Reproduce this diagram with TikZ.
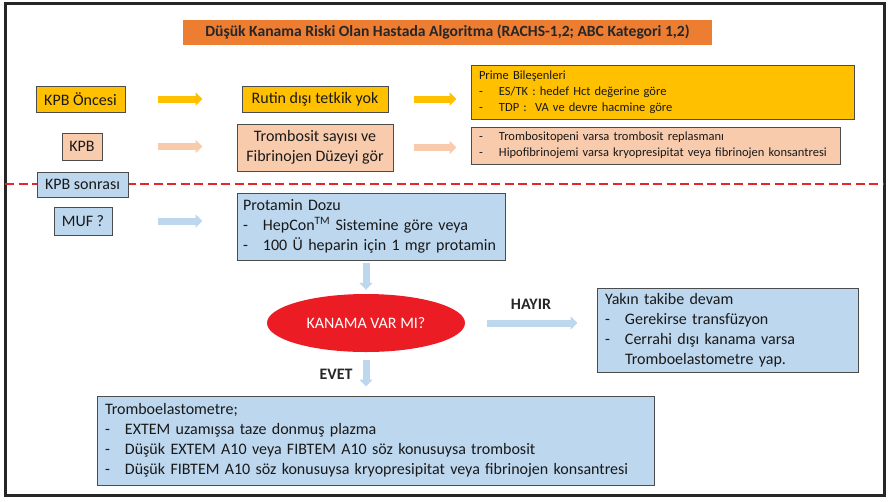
\documentclass[tikz,border=0pt]{standalone}
\usepackage{fontspec}
\setmainfont{Carlito}
\usetikzlibrary{arrows.meta,shapes.geometric}
\definecolor{gold}{HTML}{FFC000}
\definecolor{peach}{HTML}{F8CBAD}
\definecolor{skyblue}{HTML}{BDD7EE}
\definecolor{titleorange}{HTML}{ED7D31}
\definecolor{alertred}{HTML}{EB1C24}
\definecolor{linered}{HTML}{E3262B}
\newcommand{\itemdash}{\makebox[20pt][l]{-}}
\begin{document}
\begin{tikzpicture}[x=1pt,y=-1pt,
  box/.style={draw=black!70, line width=1pt, inner sep=0pt, text=black!90,
    font=\fontsize{16}{20}\selectfont},
  listbox/.style={box, align=left, inner xsep=8pt},
  smallbox/.style={listbox, font=\fontsize{12.5}{16}\selectfont},
  flow/.style={line width=7pt, -{Triangle[length=7pt,width=13pt]}},
  label/.style={font=\bfseries\fontsize{16}{17}\selectfont, text=black!85}]
\useasboundingbox (0,0) rectangle (888,501);
% outer frame
\draw[line width=3pt, black!85] (5,3) rectangle (884,495);

% title banner
\node[fill=titleorange, inner sep=0pt, minimum width=529pt, minimum height=25pt,
  font=\bfseries\fontsize{15.6}{16}\selectfont, text=black!85] (title) at (447.5,32.5)
  {Düşük Kanama Riski Olan Hastada Algoritma (RACHS-1,2; ABC Kategori 1,2)};

% row: before CPB
\node[box, fill=gold, minimum width=89pt, minimum height=26pt] (kpbo) at (80.5,99) {KPB Öncesi};
\node[box, fill=gold, minimum width=146pt, minimum height=26pt] (rutin) at (315,99) {Rutin dışı tetkik yok};
\node[smallbox, fill=gold, text width=367pt, minimum height=54pt] (prime) at (662.5,92)
  {Prime Bileşenleri\\
   \itemdash ES/TK : hedef Hct değerine göre\\
   \itemdash TDP :\ \ VA ve devre hacmine göre};

% row: during CPB
\node[box, fill=peach, minimum width=40pt, minimum height=27pt] (kpb) at (82,146.5) {KPB};
\node[box, fill=peach, minimum width=156pt, minimum height=47pt, align=center] (tromb) at (315,147.5)
  {Trombosit sayısı ve\\Fibrinojen Düzeyi gör};
\node[smallbox, fill=peach, text width=353pt, minimum height=37pt] (replace) at (655.5,145.5)
  {\itemdash Trombositopeni varsa trombosit replasmanı\\
   \itemdash Hipofibrinojemi varsa kryopresipitat veya fibrinojen konsantresi};

% separator between phases
\coordinate (sepL) at (5,184);
\coordinate (sepR) at (884,184);
\draw[linered, line width=2.5pt, dash pattern=on 9pt off 4.5pt] (sepL) -- (sepR);

% after CPB
\node[box, fill=skyblue, minimum width=91pt, minimum height=25pt] (kpbs) at (82.5,184.5) {KPB sonrası};
\node[box, fill=skyblue, minimum width=58pt, minimum height=28pt] (muf) at (83,221) {MUF ?};
\node[listbox, fill=skyblue, inner xsep=6pt, text width=256pt, minimum height=67pt] (protamin) at (371,226.5)
  {Protamin Dozu\\
   \itemdash HepCon\textsuperscript{TM} Sistemine göre veya\\
   \itemdash 100 Ü heparin için 1 mgr protamin};

\node[ellipse, fill=alertred, inner sep=0pt, minimum width=198pt, minimum height=58pt,
  text=white, font=\fontsize{16}{18}\selectfont] (bleed) at (366,323) {KANAMA VAR MI?};

\node[listbox, fill=skyblue, text width=245pt, minimum height=84pt] (follow) at (727.5,330)
  {Yakın takibe devam\\
   \itemdash Gerekirse transfüzyon\\
   \itemdash Cerrahi dışı kanama varsa\\
   \makebox[20pt]{}Tromboelastometre yap.};

\node[listbox, fill=skyblue, text width=541pt, minimum height=89pt] (rotem) at (375.5,440.5)
  {Tromboelastometre;\\
   \itemdash EXTEM uzamışsa taze donmuş plazma\\
   \itemdash Düşük EXTEM A10 veya FIBTEM A10 söz konusuysa trombosit\\
   \itemdash Düşük FIBTEM A10 söz konusuysa kryopresipitat veya fibrinojen konsantresi};

% connectors
\draw[flow, gold, shorten <=32pt, shorten >=39pt] (kpbo.east) -- (rutin.west);
\draw[flow, gold, shorten <=25pt, shorten >=14pt] (rutin.east) -- (rutin.east -| prime.west);
\draw[flow, peach, shorten <=55pt, shorten >=34pt] (kpb.east) -- (kpb.east -| tromb.west);
\draw[flow, peach, shorten <=20pt, shorten >=14pt] (tromb.east) -- (tromb.east -| replace.west);
\draw[flow, skyblue, shorten <=45pt, shorten >=34pt] (muf.east) -- (muf.east -| protamin.west);
\draw[flow, skyblue, shorten <=2pt, shorten >=4pt] (protamin.south -| bleed.north) -- (bleed.north);
\draw[flow, skyblue, shorten <=22pt, shorten >=19pt] (bleed.east) -- (bleed.east -| follow.west);
\draw[flow, skyblue, shorten <=8pt, shorten >=9pt] (bleed.south) -- (bleed.south |- rotem.north);

% branch labels
\node[label] (no) at (531,304) {HAYIR};
\node[label] (yes) at (336,374) {EVET};
\end{tikzpicture}
\end{document}
